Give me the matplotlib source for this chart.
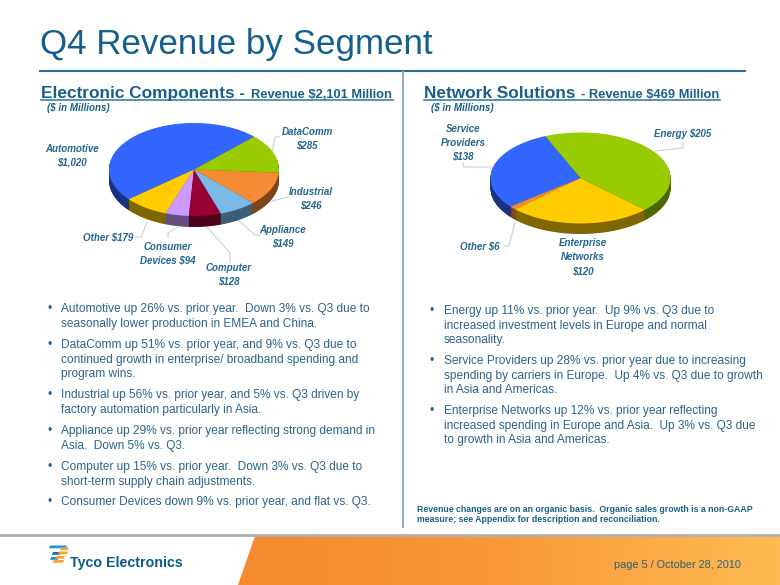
import numpy as np
import matplotlib
matplotlib.use("Agg")
import matplotlib.pyplot as plt
from matplotlib.colors import LinearSegmentedColormap
from matplotlib.patches import Polygon

plt.rcParams['font.family'] = ['Liberation Sans', 'DejaVu Sans']

W, H = 780, 585

# Data
ec_values = [1020, 179, 94, 128, 149, 246, 285]  # Automotive, Other, Consumer, Computer, Appliance, Industrial, DataComm
ec_colors = ['#3366FF', '#FFCC00', '#CC99FF', '#990033', '#7ABAE8', '#F58B35', '#99CC00']
ec_sides = ['#1A3380', '#806600', '#664D80', '#4D001A', '#3D5D74', '#7B461A', '#4D6600']

ns_values = [138, 6, 120, 205]  # Service Providers, Other, Enterprise Networks, Energy
ns_colors = ['#3366FF', '#F58B35', '#FFCC00', '#99CC00']
ns_sides = ['#1A3380', '#7B461A', '#806600', '#4D6600']

left_bullets = [
    ['Automotive up 26% vs. prior year.  Down 3% vs. Q3 due to', 'seasonally lower production in EMEA and China.'],
    ['DataComm up 51% vs. prior year, and 9% vs. Q3 due to', 'continued growth in enterprise/ broadband spending and', 'program wins.'],
    ['Industrial up 56% vs. prior year, and 5% vs. Q3 driven by', 'factory automation particularly in Asia.'],
    ['Appliance up 29% vs. prior year reflecting strong demand in', 'Asia.  Down 5% vs. Q3.'],
    ['Computer up 15% vs. prior year.  Down 3% vs. Q3 due to', 'short-term supply chain adjustments.'],
    ['Consumer Devices down 9% vs. prior year, and flat vs. Q3.'],
]
left_y = [309, 345, 395, 431, 467, 502]
right_bullets = [
    ['Energy up 11% vs. prior year.  Up 9% vs. Q3 due to', 'increased investment levels in Europe and normal', 'seasonality.'],
    ['Service Providers up 28% vs. prior year due to increasing', 'spending by carriers in Europe.  Up 4% vs. Q3 due to growth', 'in Asia and Americas.'],
    ['Enterprise Networks up 12% vs. prior year reflecting', 'increased spending in Europe and Asia.  Up 3% vs. Q3 due', 'to growth in Asia and Americas.'],
]
right_y = [311, 361, 411]

BLUE = '#1A5F88'
TEXT = '#2B6488'
LABEL = '#22668F'

fig = plt.figure(figsize=(W / 100, H / 100), dpi=100, facecolor='white')
bg = fig.add_axes([0, 0, 1, 1])
bg.set_xlim(0, W)
bg.set_ylim(H, 0)
bg.axis('off')


def draw_pie(cx, cy, rx, ry, depth, values, colors, sides, start):
    # dedicated axes so the pie can be squashed into an ellipse
    x0, x1, y0, y1 = cx - rx - 4, cx + rx + 4, cy - ry - 4, cy + ry + depth + 4
    ax = fig.add_axes([x0 / W, 1 - y1 / H, (x1 - x0) / W, (y1 - y0) / H])
    for d in np.arange(depth, 0, -0.5):
        ax.pie(values, colors=sides, startangle=start, center=(0, -d / ry), radius=1)
    ax.pie(values, colors=colors, startangle=start, center=(0, 0), radius=1)
    ax.set_aspect('auto')
    ax.set_xlim((x0 - cx) / rx, (x1 - cx) / rx)
    ax.set_ylim((cy - y1) / ry, (cy - y0) / ry)
    ax.axis('off')


draw_pie(194, 169.5, 85, 46.5, 11, ec_values, ec_colors, ec_sides, 45)
draw_pie(580.5, 178, 90, 45.5, 10.5, ns_values, ns_colors, ns_sides, 113)

# Title and rules
bg.text(40, 54, 'Q4 Revenue by Segment', fontsize=25.2, color='#14608C', va='baseline')
bg.plot([40, 745], [71.3, 71.3], color='#2C6E94', lw=1.5)
bg.plot([403, 403], [72, 527], color='#8FAFC3', lw=1.5)


def header(x, y, big, small, x_small, x_end):
    bg.text(x, y, big, fontsize=12.4, fontweight='bold', color=BLUE, va='baseline')
    bg.text(x_small, y, small, fontsize=9.3, fontweight='bold', color=BLUE, va='baseline')
    bg.plot([x, x_end], [y + 2.2, y + 2.2], color='#3F7FA3', lw=1.2)


header(41, 98, 'Electronic Components -', 'Revenue $2,101 Million', 251, 393)
header(424, 98, 'Network Solutions', '- Revenue $469 Million', 581, 720)
bg.text(47, 108, '($ in Millions)', fontsize=7, fontweight='bold', style='italic', color=BLUE, va='center')
bg.text(431, 108, '($ in Millions)', fontsize=7, fontweight='bold', style='italic', color=BLUE, va='center')


def label(x, y, s):
    bg.text(x, y, s, fontsize=7, fontweight='bold', style='italic', color=LABEL,
            ha='center', va='center', linespacing=1.45)


label(72, 155.5, 'Automotive\n$1,020')
label(307, 138.5, 'DataComm\n$285')
label(311, 198.5, 'Industrial\n$246')
label(283, 236.5, 'Appliance\n$149')
label(229, 274.5, 'Computer\n$128')
label(168, 253.5, 'Consumer\nDevices $94')
label(108, 237, 'Other $179')
label(463, 142.5, 'Service\nProviders\n$138')
label(683, 134, 'Energy $205')
label(480, 246, 'Other $6')
label(583, 257, 'Enterprise\nNetworks\n$120')

# Leader lines
leaders = [
    ([272, 275, 280], [152, 137, 137]),
    ([272, 288], [201, 197]),
    ([238, 255, 260], [220, 235, 235]),
    ([207, 230, 230], [227, 253, 262]),
    ([178, 168, 168], [227, 233, 237]),
    ([147, 141, 135], [222, 237, 237]),
    ([492, 464, 463], [167, 167, 163]),
    ([655, 683, 683], [151, 148, 143]),
    ([515, 509, 504], [222, 246, 246]),
]
for xs, ys in leaders:
    bg.plot(xs, ys, color='#C5D3DC', lw=0.8)


def bullets(x, ys, blocks):
    for y, lines in zip(ys, blocks):
        bg.text(x, y, '\u2022', fontsize=8.6, color=TEXT, va='center')
        for i, line in enumerate(lines):
            bg.text(x + 14, y + i * 14.6, line, fontsize=8.6, color=TEXT, va='center')


bullets(47, left_y, left_bullets)
bullets(430, right_y, right_bullets)

bg.text(417, 510, 'Revenue changes are on an organic basis.  Organic sales growth is a non-GAAP',
        fontsize=6.3, fontweight='bold', color=BLUE, va='center')
bg.text(417, 520, 'measure; see Appendix for description and reconciliation.',
        fontsize=6.3, fontweight='bold', color=BLUE, va='center')

# Footer band
bg.plot([0, W], [534.5, 534.5], color='#AEB2B4', lw=2)
orange = LinearSegmentedColormap.from_list('band', ['#F58A2E', '#F9993A', '#FDBB52'])
grad = np.linspace(0, 1, 256).reshape(1, -1)
im = bg.imshow(grad, extent=(238, W, H, 536), cmap=orange, aspect='auto', zorder=1)
clip = Polygon([(255, 536), (W, 536), (W, H), (238, H)], closed=True, transform=bg.transData, fc='none', ec='none')
bg.add_patch(clip)
im.set_clip_path(clip)
bg.set_xlim(0, W)
bg.set_ylim(H, 0)

# Logo bars, slanted
for x0, y0, w, col in [(49, 545.5, 17, '#1F9BCB'), (60, 547.5, 8, '#F9A23C'), (52, 552, 8, '#1F6E96'),
                       (58, 551.5, 9, '#F9A23C'), (50, 557, 8, '#1F9BCB'), (55, 556, 9, '#F9A23C'),
                       (53, 560, 10, '#F9A23C')]:
    bg.add_patch(Polygon([(x0 + 1, y0), (x0 + w + 1, y0), (x0 + w, y0 + 2.8), (x0, y0 + 2.8)],
                         closed=True, fc=col, ec='none', zorder=3))
bg.text(70, 563, 'Tyco Electronics', fontsize=10.3, fontweight='bold', color='#0B5C86', va='center', zorder=3)
bg.text(741, 565, 'page 5 / October 28, 2010', fontsize=7.85, color='#2F5F78', ha='right', va='center', zorder=3)

fig.savefig('out.png', dpi=100)
